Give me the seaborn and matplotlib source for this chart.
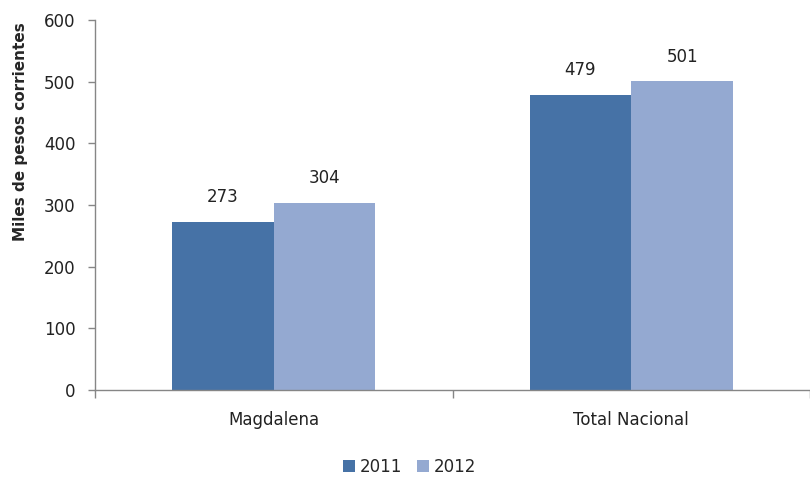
import pandas as pd
import seaborn as sns
import matplotlib.pyplot as plt

# Chart values
regions = ['Magdalena', 'Total Nacional']
years = ['2011', '2012']
vals_2011 = [273, 479]
vals_2012 = [304, 501]

df = pd.DataFrame({
    'Region': regions * 2,
    'Year': [years[0]] * 2 + [years[1]] * 2,
    'Value': vals_2011 + vals_2012,
})

sns.set_style('white')
plt.rcParams['font.family'] = ['DejaVu Sans']

fig = plt.figure(figsize=(8.1, 4.78), dpi=100)
ax = fig.add_axes([0.1173, 0.1841, 0.8827, 0.7741])

palette = {'2011': '#4672A6', '2012': '#94A9D1'}
sns.barplot(data=df, x='Region', y='Value', hue='Year', order=regions,
            hue_order=years, palette=palette, width=0.569, gap=0,
            saturation=1, linewidth=0, edgecolor='none', ax=ax, legend=True)

# value labels above bars
for cont in ax.containers:
    ax.bar_label(cont, fmt='%d', padding=11, fontsize=12, color='#222222')

ax.set_ylim(0, 600)
ax.set_yticks(range(0, 601, 100))
ax.set_xlim(-0.5, 1.475)

# tick marks at category boundaries, labels at centers
ax.set_xticks([-0.5, 0.5, 1.5])
ax.set_xticklabels([])
ax.set_xticks([0, 1], minor=True)
ax.set_xticklabels(regions, minor=True, fontsize=12, color='#222222')
ax.tick_params(axis='x', which='major', direction='out', length=6,
               color='#868686', width=1, bottom=True)
ax.tick_params(axis='x', which='minor', length=0, pad=15)
ax.tick_params(axis='y', direction='out', length=5, color='#868686',
               width=1, left=True, labelsize=12, labelcolor='#222222', pad=9)

for s in ['top', 'right']:
    ax.spines[s].set_visible(False)
for s in ['left', 'bottom']:
    ax.spines[s].set_color('#868686')
    ax.spines[s].set_linewidth(1)

ax.set_xlabel('')
ax.set_ylabel('Miles de pesos corrientes', fontsize=11, fontweight='bold')
ax.yaxis.set_label_coords(-0.094, 0.697)

handles, labels = ax.get_legend_handles_labels()
ax.legend(handles, labels, loc='center', ncol=2, frameon=False, fontsize=12,
          handlelength=0.7, handleheight=0.7, handletextpad=0.3,
          columnspacing=0.9)
ax.get_legend().set_bbox_to_anchor((0.506, 0.024), transform=fig.transFigure)

fig.savefig('out.png', dpi=100)
